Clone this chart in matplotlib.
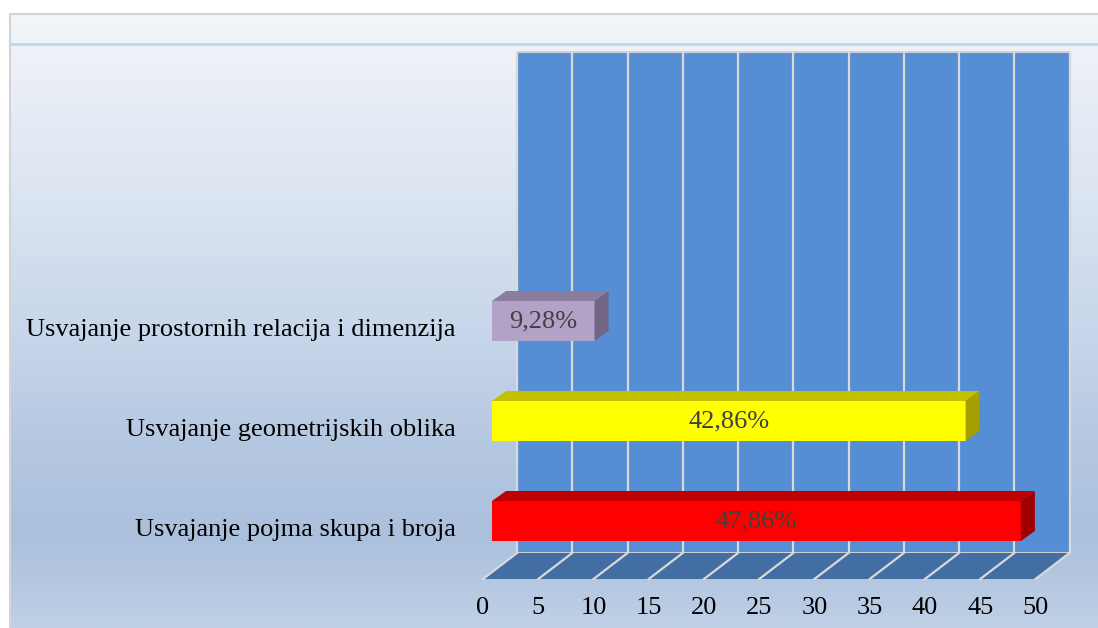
import numpy as np
import matplotlib
matplotlib.use("Agg")
import matplotlib.pyplot as plt
from matplotlib.patches import Polygon, Rectangle
from matplotlib.transforms import ScaledTranslation, IdentityTransform
from matplotlib.colors import LinearSegmentedColormap

# ---- data ----
categories = ["Usvajanje pojma skupa i broja",
              "Usvajanje geometrijskih oblika",
              "Usvajanje prostornih relacija i dimenzija"]
values = [47.86, 42.86, 9.28]
value_labels = ["47,86%", "42,86%", "9,28%"]
ticks = [0, 5, 10, 15, 20, 25, 30, 35, 40, 45, 50]

front_colors = ["#ff0000", "#ffff00", "#b3a2c7"]
top_colors = ["#c00000", "#c4c000", "#8b7d9c"]
side_colors = ["#a00000", "#a3a000", "#726684"]

FONT = "Liberation Serif"
FS = 19
DPI = 100
W, H = 1098, 628

fig = plt.figure(figsize=(W / DPI, H / DPI), dpi=DPI)
fig.patch.set_facecolor("white")

# ---- background panel ----
bg = fig.add_axes([0, 0, 1, 1])
bg.set_xlim(0, W)
bg.set_ylim(H, 0)
bg.axis("off")
cmap = LinearSegmentedColormap.from_list(
    "bg", [(0.0, "#f2f5f9"), (0.06, "#eef2f8"), (0.3, "#dbe4f1"),
           (0.52, "#c7d6ea"), (0.7, "#b5c8e1"), (0.85, "#aac0dd"),
           (1.0, "#bfd0e6")])
grad = np.linspace(0, 1, 256).reshape(-1, 1)
bg.imshow(grad, cmap=cmap, aspect="auto", extent=(10, W, H, 14), zorder=0)
bg.plot([10, 10, W], [H, 14, 14], color="#d4d4d4", lw=1.5, zorder=1)
bg.plot([11, W], [44, 44], color="#b7dde8", lw=2, zorder=1)

# ---- main axes (bar front plane) ----
px_per_unit = 11.05
x0_px = 492
floor_px = 572
top_px = 71
ylo, yhi = -0.51, 4.5
ax = fig.add_axes([x0_px / W, (H - floor_px) / H,
                   50 * px_per_unit / W, (floor_px - top_px) / H])
ax.set_xlim(0, 50)
ax.set_ylim(ylo, yhi)
ax.axis("off")
ax.patch.set_alpha(0)

def shift(dx, dy):
    """transData shifted by dx,dy pixels (image coords, dy down)."""
    return ax.transData + ScaledTranslation(dx / DPI, -dy / DPI, fig.dpi_scale_trans)

def pt(x, y, dx=0, dy=0):
    p = ax.transData.transform((x, y))
    return (p[0] + dx, p[1] - dy)

WALL = (25, -19)
FRONT = (-9, 7)
DEPTH = (14, -10)

# wall
ax.add_patch(Rectangle((0, ylo), 50, yhi - ylo, transform=shift(*WALL),
                       facecolor="#558ed5", edgecolor="#d0d0d0", lw=1.5,
                       zorder=1, clip_on=False))
for t in ticks:
    ax.plot([t, t], [ylo, yhi], transform=shift(*WALL), color="#d9d9d9",
            lw=1.6, zorder=2, clip_on=False)

# floor
floor = [pt(0, ylo, *FRONT), pt(50, ylo, *FRONT), pt(50, ylo, *WALL), pt(0, ylo, *WALL)]
fig.add_artist(Polygon(floor, closed=True, transform=IdentityTransform(),
                       facecolor="#426ea3", edgecolor="none", zorder=3))
for t in ticks:
    a = pt(t, ylo, *FRONT)
    b = pt(t, ylo, *WALL)
    fig.add_artist(plt.Line2D([a[0], b[0]], [a[1], b[1]], transform=IdentityTransform(),
                              color="#d9d9d9", lw=1.6, zorder=3.5))

# tick labels
for t in ticks:
    ax.text(t, ylo, str(t), transform=shift(FRONT[0], 36), ha="center", va="center",
            fontsize=FS, family=FONT, color="black", zorder=6, clip_on=False)

# bars
bh = 0.4
for i, (v, lab) in enumerate(zip(values, value_labels)):
    yb, yt = i - bh / 2, i + bh / 2
    top = [pt(0, yt), pt(v, yt), pt(v, yt, *DEPTH), pt(0, yt, *DEPTH)]
    side = [pt(v, yb), pt(v, yt), pt(v, yt, *DEPTH), pt(v, yb, *DEPTH)]
    fig.add_artist(Polygon(top, closed=True, transform=IdentityTransform(),
                           facecolor=top_colors[i], edgecolor="none", zorder=4))
    fig.add_artist(Polygon(side, closed=True, transform=IdentityTransform(),
                           facecolor=side_colors[i], edgecolor="none", zorder=4))
    ax.barh(i, v, height=bh, left=0, color=front_colors[i], zorder=5)
    ax.text(v / 2, i, lab, ha="center", va="center", fontsize=FS, family=FONT,
            color="#404040", zorder=6)

# category labels
for i, c in enumerate(categories):
    ax.text(0, i, c, transform=shift(-36, 9), ha="right", va="center",
            fontsize=FS, family=FONT, color="black", zorder=6, clip_on=False)

fig.savefig("out.png", dpi=DPI)
